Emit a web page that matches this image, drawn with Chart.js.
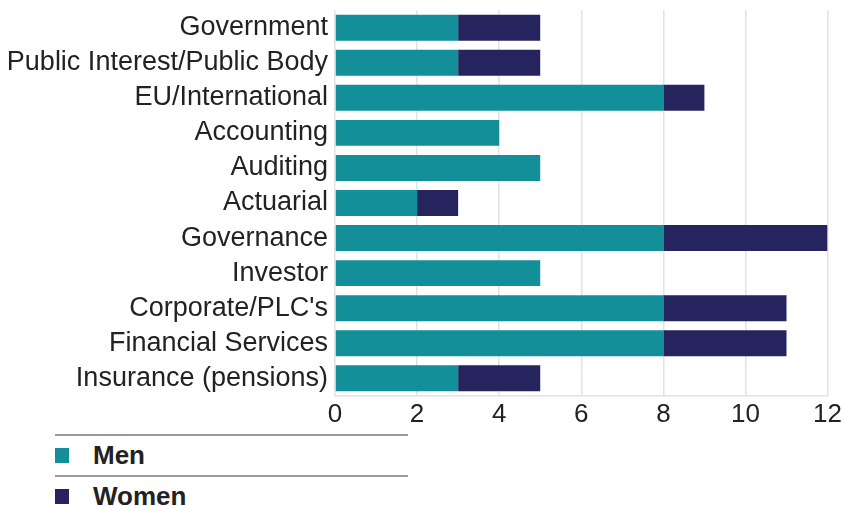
<!DOCTYPE html>
<html>
<head>
<meta charset="utf-8">
<script src="https://cdn.jsdelivr.net/npm/chart.js@4/dist/chart.umd.min.js"></script>
<style>
  html, body { margin: 0; padding: 0; background: #fff; overflow: hidden; }
  #wrap { position: relative; width: 842px; height: 506px; overflow: hidden; font-family: "Liberation Sans", Arial, sans-serif; }
  #chart-box { position: absolute; left: 0; top: -13px; width: 845px; height: 446px; }
  .legend-line { position: absolute; left: 55px; width: 353px; height: 0; border-top: 2px solid #9a9a9a; }
  .legend-item { position: absolute; left: 55px; height: 30px; display: flex; align-items: center; }
  .legend-item .sw { width: 14px; height: 15px; margin-right: 24px; }
  .legend-item span { font-size: 26px; font-weight: bold; color: #222; }
</style>
</head>
<body>
<div id="wrap">
  <div id="chart-box"><canvas id="chart"></canvas></div>
  <div class="legend-line" style="top:434px"></div>
  <div class="legend-item" style="top:440px"><div class="sw" style="background:#138f99"></div><span>Men</span></div>
  <div class="legend-line" style="top:475px"></div>
  <div class="legend-item" style="top:481px"><div class="sw" style="background:#26245e"></div><span>Women</span></div>
</div>
<script>
const categories = [
  'Government',
  'Public Interest/Public Body',
  'EU/International',
  'Accounting',
  'Auditing',
  'Actuarial',
  'Governance',
  'Investor',
  "Corporate/PLC's",
  'Financial Services',
  'Insurance (pensions)'
];
const men   = [3, 3, 8, 4, 5, 2, 8, 5, 8, 8, 3];
const women = [2, 2, 1, 0, 0, 1, 4, 0, 3, 3, 2];
const xTicks = [0, 2, 4, 6, 8, 10, 12];

Chart.defaults.font.family = '"Liberation Sans", Arial, sans-serif';

new Chart(document.getElementById('chart'), {
    type: 'bar',
    data: {
        labels: categories,
        datasets: [
            { label: 'Men', data: men, backgroundColor: '#138f99', barPercentage: 0.74, categoryPercentage: 1 },
            { label: 'Women', data: women, backgroundColor: '#26245e', barPercentage: 0.74, categoryPercentage: 1 }
        ]
    },
    options: {
        indexAxis: 'y',
        responsive: true,
        maintainAspectRatio: false,
        animation: false,
        layout: { padding: 0 },
        plugins: { legend: { display: false }, tooltip: { enabled: false } },
        scales: {
            x: {
                stacked: true,
                min: 0,
                max: 12,
                afterBuildTicks: (s) => { s.ticks = xTicks.map(v => ({ value: v })); },
                grid: { color: '#e2e2e2', lineWidth: 1.5, drawTicks: false },
                border: { color: '#e2e2e2', width: 1.5 },
                ticks: { color: '#222', font: { size: 26 }, padding: 3 }
            },
            y: {
                stacked: true,
                grid: { display: false, drawTicks: false },
                border: { display: false },
                ticks: { color: '#222', font: { size: 27 }, padding: 7, autoSkip: false },
                afterFit: (s) => { s.width = 335; }
            }
        }
    }
});
</script>
</body>
</html>
